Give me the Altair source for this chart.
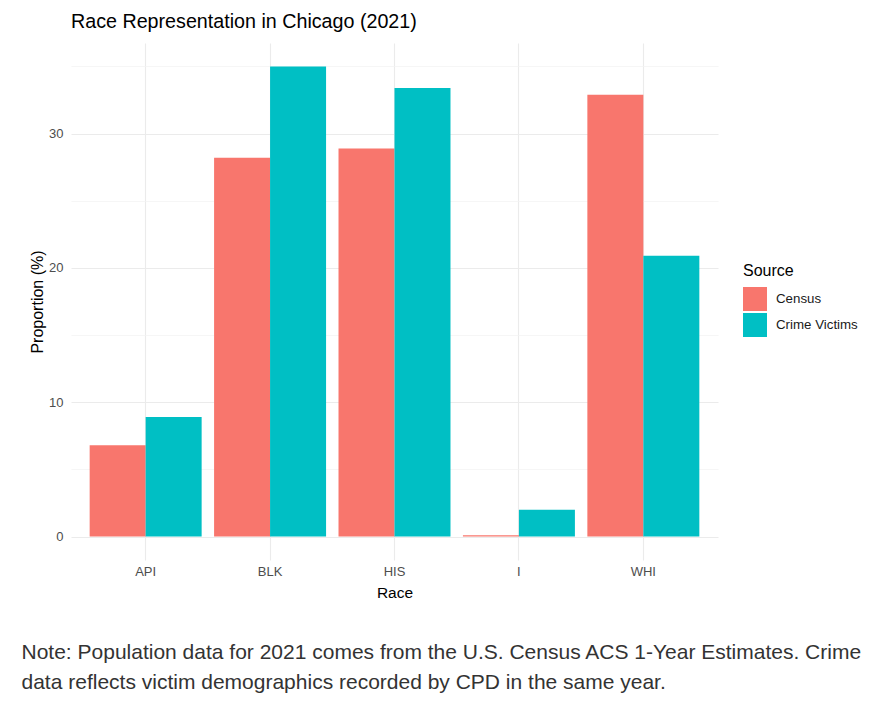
import altair as alt
import pandas as pd

races = ["API", "BLK", "HIS", "I", "WHI"]
census = [6.8, 28.2, 28.9, 0.1, 32.9]
victims = [8.9, 35.0, 33.4, 2.0, 20.9]
sources = ["Census", "Crime Victims"]
colors = ["#F8766D", "#00BFC4"]
y_ticks = [0, 5, 10, 15, 20, 25, 30, 35]
title_text = "Race Representation in Chicago (2021)"
note_lines = [
    "Note: Population data for 2021 comes from the U.S. Census ACS 1-Year Estimates. Crime",
    "data reflects victim demographics recorded by CPD in the same year.",
]

rows = []
for r, c, v in zip(races, census, victims):
    rows.append({"Race": r, "Source": sources[0], "Proportion": c})
    rows.append({"Race": r, "Source": sources[1], "Proportion": v})
df = pd.DataFrame(rows)

FONT = "Liberation Sans"

bars = alt.Chart(df).mark_bar().encode(
    x=alt.X(
        "Race:N",
        sort=races,
        scale=alt.Scale(paddingInner=0.1, paddingOuter=0.15),
        axis=alt.Axis(
            title="Race",
            grid=True,
            gridColor="#EBEBEB",
            gridWidth=1.1,
            ticks=False,
            domain=False,
            labelAngle=0,
            labelFont=FONT,
            labelFontSize=13,
            labelColor="#4D4D4D",
            labelBaseline="top",
            labelPadding=5,
            titleFont=FONT,
            titleFontSize=15.5,
            titleFontWeight=400,
            titleColor="#000000",
            titleBaseline="alphabetic",
            titleY=37,
        ),
    ),
    xOffset=alt.XOffset("Source:N", sort=sources, scale=alt.Scale(paddingInner=0, paddingOuter=0)),
    y=alt.Y(
        "Proportion:Q",
        scale=alt.Scale(domain=[-1.75, 36.75], nice=False, zero=False),
        axis=alt.Axis(
            title="Proportion (%)",
            values=y_ticks,
            labelExpr="datum.value % 10 === 0 ? datum.label : ''",
            grid=True,
            gridColor={"condition": {"test": "datum.value % 10 === 0", "value": "#EBEBEB"}, "value": "#F2F2F2"},
            gridWidth={"condition": {"test": "datum.value % 10 === 0", "value": 1.1}, "value": 0.7},
            ticks=False,
            domain=False,
            labelFont=FONT,
            labelFontSize=13,
            labelColor="#4D4D4D",
            labelPadding=8,
            titleFont=FONT,
            titleFontSize=16,
            titleFontWeight=400,
            titleColor="#000000",
            titleX=-34,
            titleBaseline="middle",
        ),
    ),
    y2=alt.datum(0),
    color=alt.Color(
        "Source:N",
        sort=sources,
        scale=alt.Scale(domain=sources, range=colors),
        legend=alt.Legend(
            title="Source",
            orient="none",
            legendX=672,
            legendY=220,
            padding=0,
            symbolType="square",
            symbolSize=576,
            symbolStrokeWidth=0,
            symbolOpacity=1,
            rowPadding=2,
            titlePadding=8,
            labelOffset=9,
            labelFont=FONT,
            labelFontSize=13.3,
            labelColor="#1A1A1A",
            titleFont=FONT,
            titleFontSize=16,
            titleFontWeight=400,
            titleColor="#000000",
        ),
    ),
)

note = alt.Chart(pd.DataFrame({"k": [0]})).mark_text(
    align="left",
    baseline="alphabetic",
    font=FONT,
    fontSize=21,
    lineHeight=29.5,
    color="#333333",
).encode(
    x=alt.value(-49.5),
    y=alt.value(616),
    text=alt.value(note_lines),
)

chart = alt.layer(bars, note).properties(
    width=647,
    height=517,
    background="white",
    autosize=alt.AutoSizeParams(type="none"),
    padding={"left": 71, "top": 43, "right": 170, "bottom": 152},
    title=alt.TitleParams(
        text=title_text,
        anchor="start",
        frame="group",
        font=FONT,
        fontSize=19.7,
        fontWeight=400,
        color="#000000",
        baseline="alphabetic",
        offset=13,
        dy=18,
    ),
).configure_view(stroke=None).configure_axis(titleFontWeight=400).configure_legend(titleFontWeight=400)

chart.save("out.html", embed_options={"renderer": "svg", "actions": False})
